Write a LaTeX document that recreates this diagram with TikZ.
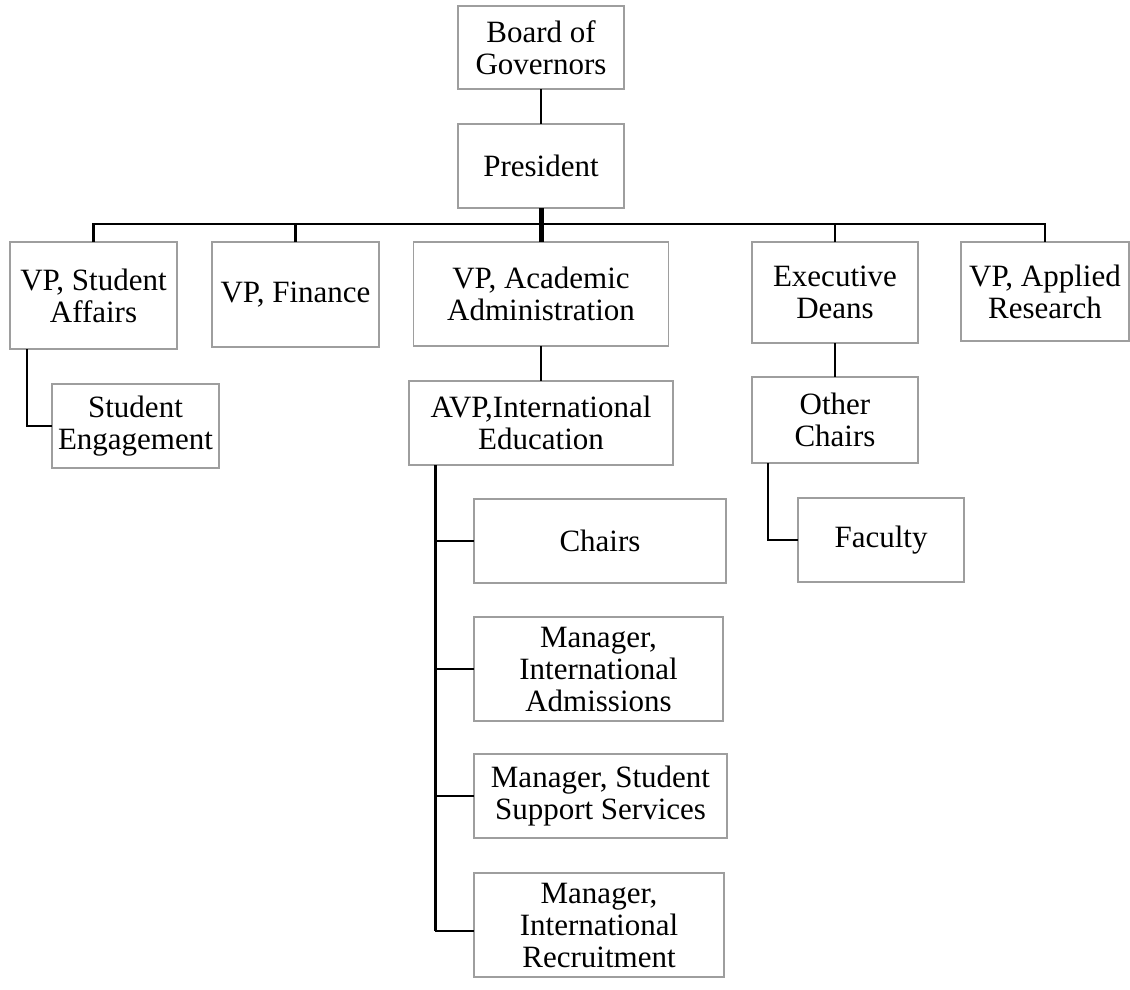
\documentclass[tikz,border=0pt]{standalone}
\usepackage{fontspec}
\setmainfont{Liberation Serif}
\begin{document}
\begin{tikzpicture}[x=1pt,y=-1pt,
  box/.style={draw=black!38, line width=1.5pt, fill=white, inner sep=0pt, outer sep=0pt,
    align=center, font=\fontsize{31}{32}\selectfont},
  conn/.style={draw=black, line width=2.2pt},
  thickconn/.style={draw=black, line width=5pt}]
\useasboundingbox (0,0) rectangle (1130,989);
\coordinate (bus) at (541,224);
\node[box, minimum width=166, minimum height=83] (bog) at (541,47.5) {Board of\\Governors};
\node[box, minimum width=166, minimum height=84] (pres) at (541,166) {President};
\node[box, minimum width=167, minimum height=107] (vpsa) at (93.5,295.5) {VP, Student\\Affairs};
\node[box, minimum width=167, minimum height=105] (vpf) at (295.5,294.5) {VP, Finance};
\node[box, minimum width=255, minimum height=104] (vpaa) at (541,294) {VP, Academic\\Administration};
\node[box, minimum width=264, minimum height=84] (avp) at (541,423) {AVP,International\\Education};
\node[box, minimum width=166, minimum height=101] (ed) at (835,292.5) {Executive\\Deans};
\node[box, minimum width=168, minimum height=99] (vpar) at (1045,291.5) {VP, Applied\\Research};
\node[box, minimum width=167, minimum height=84] (se) at (135.5,426) {Student\\Engagement};
\node[box, minimum width=166, minimum height=86] (oc) at (835,420) {Other\\Chairs};
\node[box, minimum width=166, minimum height=84] (fac) at (881,540) {Faculty};
\node[box, minimum width=252, minimum height=84] (ch) at (600,541) {Chairs};
\node[box, minimum width=249, minimum height=104] (mia) at (598.5,669) {Manager,\\International\\Admissions};
\node[box, minimum width=253, minimum height=84] (mss) at (600.5,796) {Manager, Student\\Support Services};
\node[box, minimum width=250, minimum height=104] (mir) at (599,925) {Manager,\\International\\Recruitment};
\draw[conn] (bog.south) -- (pres.north);
\draw[conn] (vpsa.north) |- (bus) -| (vpar.north);
\draw[conn] (vpf.north) -- (vpf.north |- bus);
\draw[conn] (ed.north) -- (ed.north |- bus);
\draw[thickconn] (pres.south) -- (vpaa.north);
\draw[conn] ([xshift=-66.5pt]vpsa.south) |- (se.west);
\draw[conn] (vpaa.south) -- (avp.north);
\draw[conn] (ed.south) -- (oc.north);
\draw[conn] ([xshift=-67pt]oc.south) |- (fac.west);
\coordinate (stem) at ([xshift=-106pt]avp.south);
\coordinate (mirw) at ([yshift=-6pt]mir.west);
\draw[conn, line width=3pt] (stem) -- (stem |- mirw);
\draw[conn] (stem |- ch.west) -- (ch.west);
\draw[conn] (stem |- mia.west) -- (mia.west);
\draw[conn] (stem |- mss.west) -- (mss.west);
\draw[conn] (stem |- mirw) -- (mirw);
\end{tikzpicture}
\end{document}
